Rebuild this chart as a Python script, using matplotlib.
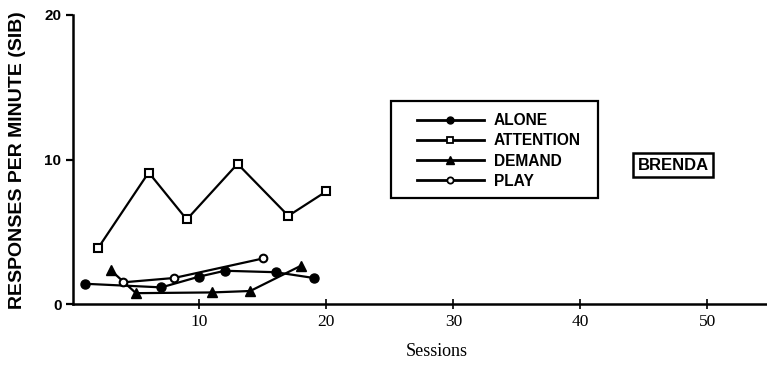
"""
Functional analysis chart: responses per minute (SIB) across sessions.
"""

import matplotlib.pyplot as plt
from matplotlib.lines import Line2D
from matplotlib.patches import Rectangle

alone_x = [1, 7, 10, 12, 16, 19]
alone_y = [1.4, 1.15, 1.9, 2.3, 2.2, 1.8]

attention_x = [2, 6, 9, 13, 17, 20]
attention_y = [3.85, 9.1, 5.85, 9.7, 6.1, 7.8]

demand_x = [3, 5, 11, 14, 18]
demand_y = [2.35, 0.75, 0.8, 0.9, 2.65]

play_x = [4, 8, 15]
play_y = [1.5, 1.8, 3.15]

x_ticks = [10, 20, 30, 40, 50]
y_ticks = [0, 10, 20]

W, H = 767, 368
fig = plt.figure(figsize=(W / 100, H / 100), dpi=100)
ax = fig.add_axes([72.5 / W, 1 - 304 / H, (W - 72.5) / W, (304 - 15) / H])

lw = 1.6
ax.plot(alone_x, alone_y, color="black", lw=lw, marker="o", ms=6.5,
        mfc="black", mec="black", label="ALONE", zorder=3)
ax.plot(attention_x, attention_y, color="black", lw=lw, marker="s", ms=5.5,
        mfc="white", mec="black", mew=1.5, label="ATTENTION", zorder=3)
ax.plot(demand_x, demand_y, color="black", lw=lw, marker="^", ms=7,
        mfc="black", mec="black", label="DEMAND", zorder=3)
ax.plot(play_x, play_y, color="black", lw=lw, marker="o", ms=5.5,
        mfc="white", mec="black", mew=1.5, label="PLAY", zorder=3)

ax.set_xlim(0, 54.7)
ax.set_ylim(0, 20)
ax.spines["top"].set_visible(False)
ax.spines["right"].set_visible(False)
ax.spines["left"].set_linewidth(1.8)
ax.spines["bottom"].set_linewidth(1.8)

ax.set_yticks(y_ticks)
ax.set_yticklabels([str(v) for v in y_ticks])
for t in ax.get_yticklabels():
    t.set_fontweight("bold")
    t.set_family("Liberation Sans")
ax.tick_params(axis="y", direction="out", length=5, width=1.6, pad=3,
               labelsize=11)

ax.set_xticks(x_ticks)
ax.set_xticklabels([str(v) for v in x_ticks])
for t in ax.get_xticklabels():
    t.set_family("Liberation Serif")
ax.tick_params(axis="x", direction="inout", length=7, width=1.2, pad=4,
               labelsize=12.5)

fig.text(437 / W, 1 - 352 / H, "Sessions", ha="center", va="center",
         fontsize=13, family="Liberation Serif")
fig.text(18 / W, 1 - 160 / H, "RESPONSES PER MINUTE (SIB)", rotation=90,
         ha="center", va="center", fontsize=14, fontweight="bold",
         family="Liberation Sans")

# legend box drawn separately so the inner padding can be wider than tall
fig.patches.append(Rectangle((391 / W, 1 - 198 / H), (598 - 391) / W,
                             (198 - 101) / H, transform=fig.transFigure,
                             fill=False, ec="black", lw=1.6))
handles = [
    Line2D([], [], color="black", lw=2, marker="o", ms=5, mfc="black"),
    Line2D([], [], color="black", lw=2, marker="s", ms=4.5, mfc="white", mew=1.3),
    Line2D([], [], color="black", lw=2, marker="^", ms=5.5, mfc="black"),
    Line2D([], [], color="black", lw=2, marker="o", ms=4.5, mfc="white", mew=1.3),
]
fig.legend(handles, ["ALONE", "ATTENTION", "DEMAND", "PLAY"],
           loc="center left", bbox_to_anchor=(417 / W, 1 - 151 / H),
           borderaxespad=0, borderpad=0, frameon=False,
           handlelength=4.3, handletextpad=0.65, labelspacing=0.33,
           prop=dict(family="Liberation Sans", weight="bold", size=11.2))

fig.text(673 / W, 1 - 165 / H, "BRENDA", ha="center", va="center",
         fontsize=12, fontweight="bold", family="Liberation Sans",
         bbox=dict(boxstyle="square,pad=0.25", fc="white", ec="black", lw=1.8))

fig.savefig("out.png", dpi=100)
